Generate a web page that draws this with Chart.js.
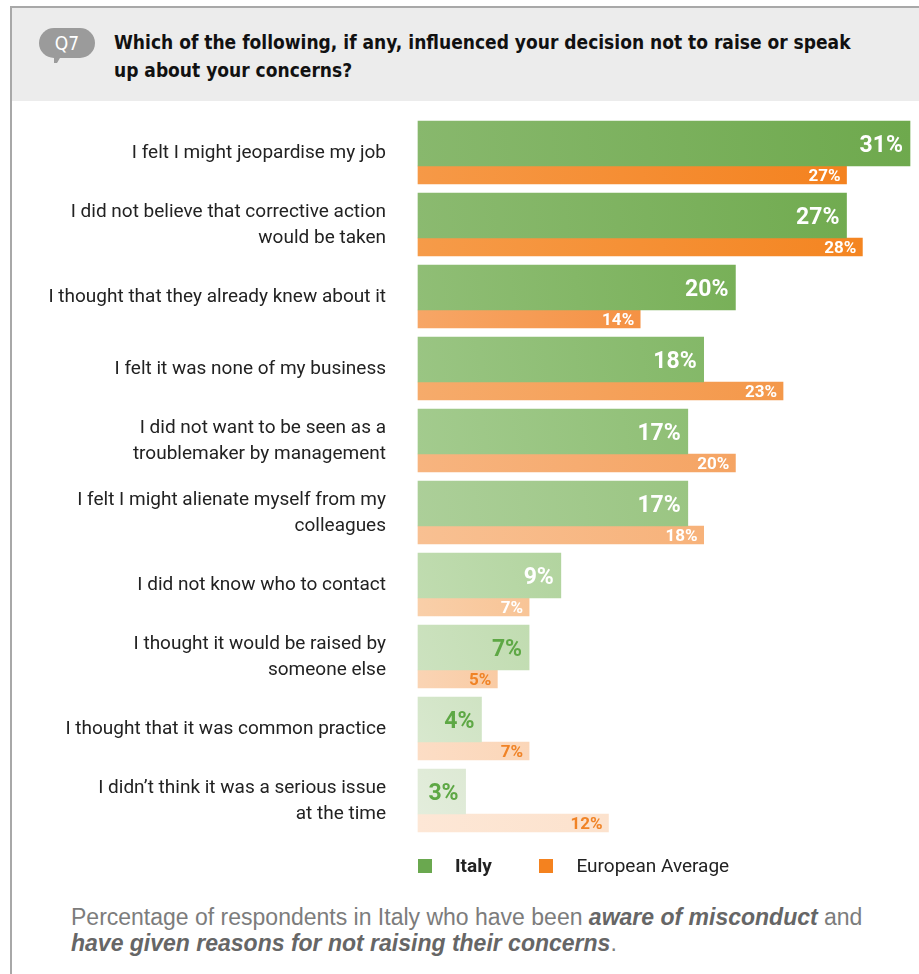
<!DOCTYPE html>
<html lang="en">
<head>
  <meta charset="UTF-8">
  <title>Q7 - Reasons for not raising concerns</title>
  <script src="https://cdn.jsdelivr.net/npm/chart.js"></script>
  <style>
    html, body { margin: 0; padding: 0; background: #fff; }
    body { width: 919px; height: 974px; position: relative; overflow: hidden;
           font-family: Roboto, sans-serif; }
    .frame { position: absolute; left: 10px; top: 6px; right: 0; bottom: 0;
             border-left: 2px solid #a8a8a8; border-top: 2px solid #a8a8a8; }
    .header { position: absolute; left: 12px; top: 8px; right: 0; height: 93px; background: #ececec; }
    .bubble { position: absolute; left: 27px; top: 20px; width: 56px; height: 30px;
              border-radius: 15px; background: #9b9b9b; color: #fff; font-size: 19px;
              font-family: 'DejaVu Sans Condensed', Roboto, sans-serif;
              line-height: 30px; text-align: center; }
    .bubble::after { content: ''; position: absolute; left: 15px; top: 25px;
                     border-left: 3px solid #9b9b9b; border-right: 6px solid transparent;
                     border-top: 10px solid #9b9b9b; }
    .title { position: absolute; left: 102px; top: 20px; width: 790px; font-size: 19px;
             font-family: 'DejaVu Sans Condensed', Roboto, sans-serif;
             font-weight: bold; line-height: 28px; color: #111; }
    .chart-box { position: absolute; left: 0; top: 100px; width: 919px; height: 760px; }
    .legend { position: absolute; top: 853px; left: 418px; font-size: 19px; color: #222; }
    .legend span { display: inline-block; vertical-align: middle; }
    .sw { width: 14px; height: 14px; margin-right: 23px; }
    .footer { position: absolute; left: 71px; top: 904px; font-size: 23px; line-height: 26px;
              font-family: 'Liberation Sans', Arial, sans-serif; color: #7c7c7c; }
    .footer b { font-style: italic; color: #666; }
  </style>
</head>
<body>
  <div class="frame"></div>
  <div class="header">
    <div class="bubble">Q7</div>
    <div class="title">Which of the following, if any, influenced your decision not to raise or speak<br>up about your concerns?</div>
  </div>
  <div class="chart-box"><canvas id="q7Chart"></canvas></div>
  <div class="legend">
    <span class="sw" style="background:#6aa84f"></span><span style="font-weight:bold;margin-right:43px">Italy</span>
    <span class="sw" style="background:#f4821f"></span><span>European Average</span>
  </div>
  <div class="footer">
    Percentage of respondents in Italy who have been <b>aware of misconduct</b> and<br>
    <b>have given reasons for not raising their concerns</b>.
  </div>

  <script>
    const reasons = [
      'I felt I might jeopardise my job',
      ['I did not believe that corrective action', 'would be taken'],
      'I thought that they already knew about it',
      'I felt it was none of my business',
      ['I did not want to be seen as a', 'troublemaker by management'],
      ['I felt I might alienate myself from my', 'colleagues'],
      'I did not know who to contact',
      ['I thought it would be raised by', 'someone else'],
      'I thought that it was common practice',
      ['I didn\u2019t think it was a serious issue', 'at the time']
    ];
    const italy = [31, 27, 20, 18, 17, 17, 9, 7, 4, 3];
    const europe = [27, 28, 14, 23, 20, 18, 7, 5, 7, 12];

    // row shades fade from strong to pale down the list
    const greenShades = ['#6ea94d', '#71ab50', '#78b058', '#84b868', '#8fbf75', '#9ac582',
                         '#b2d49f', '#c1dcb1', '#cfe3c3', '#dde9d4'];
    const orangeShades = ['#f4821f', '#f48521', '#f59244', '#f4984a', '#f5a463', '#f7b27a',
                          '#f8c496', '#f9cba4', '#fbd6b8', '#fce2cd'];
    const labelColours = {
      green: ['#fff', '#fff', '#fff', '#fff', '#fff', '#fff', '#fff', '#5ea845', '#5ea845', '#5ea845'],
      orange: ['#fff', '#fff', '#fff', '#fff', '#fff', '#fff', '#fff', '#f08326', '#f08326', '#f08326']
    };

    function lighten(hex, amt) {
      const n = parseInt(hex.slice(1), 16);
      const r = (n >> 16) & 255, g = (n >> 8) & 255, b = n & 255;
      const m = c => Math.round(c + (255 - c) * amt);
      return `rgb(${m(r)},${m(g)},${m(b)})`;
    }

    // diagonal shading: lighter bottom-left, full colour top-right
    function barFill(shades, top, thick) {
      return ctx => {
        const chart = ctx.chart;
        const { x, y } = chart.scales;
        const base = shades[ctx.dataIndex];
        if (!x || !y || ctx.type !== 'data') return base;
        const mid = y.getPixelForValue(ctx.dataIndex);
        const x0 = x.getPixelForValue(0);
        const x1 = x.getPixelForValue(ctx.raw);
        if (![mid, x0, x1].every(Number.isFinite)) return base;
        const y0 = top ? mid - thick : mid;
        const g = chart.ctx.createLinearGradient(x0, y0 + thick, x1, y0);
        g.addColorStop(0, lighten(base, 0.18));
        g.addColorStop(1, base);
        return g;
      };
    }

    const valueLabels = {
      id: 'valueLabels',
      afterDatasetsDraw(chart) {
        const ctx = chart.ctx;
        ctx.save();
        ctx.textAlign = 'right';
        ctx.textBaseline = 'middle';
        chart.data.datasets.forEach((ds, di) => {
          const big = di === 0;
          ctx.font = big ? 'bold 23px Roboto, sans-serif' : 'bold 17px Roboto, sans-serif';
          chart.getDatasetMeta(di).data.forEach((bar, i) => {
            ctx.fillStyle = (big ? labelColours.green : labelColours.orange)[i];
            ctx.fillText(ds.data[i] + '%', bar.x - (big ? 7 : 6), bar.y + (big ? 3 : 2));
          });
        });
        ctx.restore();
      }
    };

    new Chart(document.getElementById('q7Chart'), {
      type: 'bar',
      data: {
        labels: reasons,
        datasets: [
          { label: 'Italy', data: italy, backgroundColor: barFill(greenShades, true, 45),
            barThickness: 45, clip: false },
          { label: 'European Average', data: europe, backgroundColor: barFill(orangeShades, false, 18),
            barThickness: 18, clip: false }
        ]
      },
      options: {
        indexAxis: 'y',
        responsive: true,
        maintainAspectRatio: false,
        animation: false,
        layout: { padding: { top: 30, bottom: 10, left: 0, right: 9 } },
        plugins: { legend: { display: false }, tooltip: { enabled: false } },
        scales: {
          x: { display: false, min: 0, max: 31 },
          y: {
            grid: { display: false, drawTicks: false },
            border: { display: false },
            afterFit: scale => {
              scale.width = 418;
              scale.paddingTop = 0;
              scale.paddingBottom = 0;
            },
            ticks: {
              padding: 32,
              labelOffset: -13,
              color: '#222',
              font: { family: 'Roboto, sans-serif', size: 19, lineHeight: 1.35 }
            }
          }
        }
      },
      plugins: [valueLabels]
    });
  </script>
</body>
</html>
